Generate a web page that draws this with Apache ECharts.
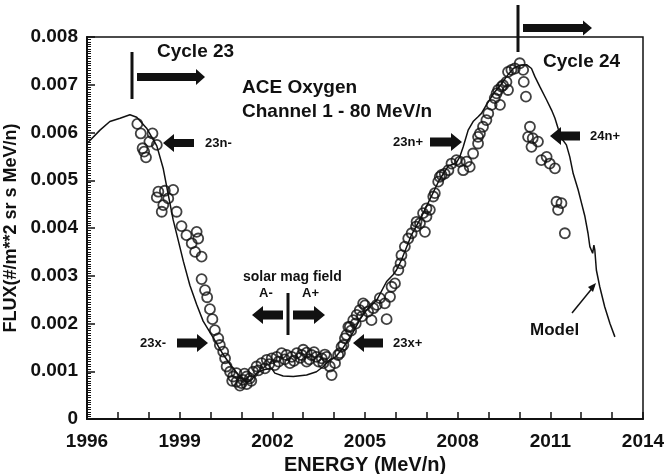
<!DOCTYPE html>
<html>
<head>
<meta charset="utf-8">
<script src="https://cdn.jsdelivr.net/npm/echarts@6/dist/echarts.min.js"></script>
<style>
  html, body { margin: 0; padding: 0; background: #fff; }
  #chart { width: 664px; height: 474px; }
</style>
</head>
<body>
<div id="chart"></div>
<script>
// ACE oxygen observations (open circles)
const obsYear = [
  1997.63, 1997.74, 1997.80, 1997.85, 1997.91, 1998.02, 1998.12, 1998.26, 1998.31, 1998.26,
  1998.42, 1998.47, 1998.52, 1998.63, 1998.79, 1998.90, 1999.06, 1999.22, 1999.39, 1999.50,
  1999.55, 1999.60, 1999.71, 1999.71, 1999.82, 1999.89, 1999.98, 2000.06, 2000.14, 2000.25,
  2000.30, 2000.41, 2000.47, 2000.52, 2000.63, 2000.73, 2000.84, 2000.84, 2001.00, 2001.17,
  2001.17, 2001.27, 2001.32, 2001.38, 2001.49, 2001.65, 2001.76, 2001.82, 2001.98, 2002.08,
  2002.14, 2002.30, 2002.46, 2002.57, 2002.63, 2002.79, 2002.95, 2003.11, 2003.11, 2003.27,
  2003.43, 2003.60, 2003.65, 2003.76, 2003.86, 2003.92, 2004.03, 2004.13, 2004.19, 2004.24,
  2004.30, 2004.35, 2004.40, 2004.46, 2004.51, 2004.62, 2004.73, 2004.83, 2004.94, 2005.10,
  2005.21, 2005.27, 2005.38, 2005.48, 2005.64, 2005.70, 2005.81, 2005.86, 2005.97, 2006.08,
  2006.15, 2006.18, 2006.29, 2006.40, 2006.51, 2006.65, 2006.67, 2006.78, 2006.88, 2006.94,
  2006.99, 2006.99, 2007.10, 2007.21, 2007.26, 2007.37, 2007.42, 2007.48, 2007.58, 2007.70,
  2007.80, 2007.96, 2008.07, 2008.18, 2008.29, 2008.39, 2008.50, 2008.66, 2008.66, 2008.72,
  2008.82, 2008.93, 2008.99, 2009.10, 2009.20, 2009.26, 2009.31, 2009.37, 2009.42, 2009.47,
  2009.58, 2009.63, 2009.63, 2009.74, 2009.85, 2010.01, 2010.12, 2010.14, 2010.21, 2010.28,
  2010.34, 2010.39, 2010.43, 2010.60, 2010.71, 2010.88, 2010.98, 2011.15, 2011.20, 2011.25,
  2011.36, 2011.47,
  2000.70, 2000.95, 2001.05, 2001.10, 2001.55, 2001.90, 2002.20, 2002.40, 2002.70, 2002.90,
  2003.00, 2003.20, 2003.35, 2003.50, 2003.70, 2004.55, 2004.70, 2004.90, 2005.00
];
const obsFlux = [
  0.00618, 0.00598, 0.00567, 0.00560, 0.00548, 0.00581, 0.00598, 0.00574, 0.00476, 0.00464,
  0.00434, 0.00448, 0.00478, 0.00462, 0.00480, 0.00434, 0.00404, 0.00385, 0.00368, 0.00350,
  0.00392, 0.00378, 0.00340, 0.00293, 0.00270, 0.00255, 0.00230, 0.00209, 0.00186, 0.00169,
  0.00155, 0.00141, 0.00127, 0.00110, 0.00099, 0.00089, 0.00078, 0.00096, 0.00075, 0.00073,
  0.00089, 0.00085, 0.00080, 0.00099, 0.00110, 0.00117, 0.00106, 0.00124, 0.00127, 0.00113,
  0.00130, 0.00138, 0.00134, 0.00117, 0.00130, 0.00138, 0.00134, 0.00139, 0.00120, 0.00134,
  0.00130, 0.00127, 0.00117, 0.00130, 0.00110, 0.00092, 0.00117, 0.00134, 0.00138, 0.00151,
  0.00155, 0.00169, 0.00176, 0.00193, 0.00193, 0.00207, 0.00218, 0.00228, 0.00242, 0.00225,
  0.00207, 0.00232, 0.00239, 0.00253, 0.00242, 0.00209, 0.00256, 0.00277, 0.00284, 0.00312,
  0.00326, 0.00343, 0.00361, 0.00378, 0.00389, 0.00403, 0.00413, 0.00410, 0.00431, 0.00392,
  0.00441, 0.00424, 0.00438, 0.00466, 0.00473, 0.00497, 0.00507, 0.00511, 0.00514, 0.00521,
  0.00535, 0.00542, 0.00539, 0.00521, 0.00539, 0.00528, 0.00556, 0.00577, 0.00591, 0.00598,
  0.00612, 0.00626, 0.00640, 0.00658, 0.00672, 0.00682, 0.00689, 0.00658, 0.00696, 0.00699,
  0.00706, 0.00689, 0.00727, 0.00731, 0.00734, 0.00745, 0.00731, 0.00706, 0.00675, 0.00591,
  0.00612, 0.00570, 0.00588, 0.00581, 0.00542, 0.00549, 0.00535, 0.00525, 0.00455, 0.00438,
  0.00452, 0.00389,
  0.00080, 0.00070, 0.00082, 0.00095, 0.00102, 0.00115, 0.00120, 0.00125, 0.00122, 0.00128,
  0.00145, 0.00125, 0.00140, 0.00120, 0.00135, 0.00185, 0.00200, 0.00215, 0.00238
];

// model curve
const modelYear = [
  1996.00, 1996.42, 1996.74, 1997.07, 1997.39, 1997.61, 1997.93, 1998.26, 1998.47, 1998.63,
  1998.79, 1998.95, 1999.12, 1999.33, 1999.55, 1999.76, 2000.09, 2000.41, 2000.68, 2000.95,
  2001.17, 2001.33, 2001.49, 2001.71, 2001.98, 2002.08, 2002.35, 2002.68, 2003.11, 2003.43,
  2003.65, 2003.86, 2004.05, 2004.30, 2004.60, 2004.85, 2005.05, 2005.38, 2005.70, 2005.91,
  2006.02, 2006.18, 2006.50, 2006.80, 2007.10, 2007.40, 2007.70, 2007.95, 2008.07, 2008.18,
  2008.34, 2008.50, 2008.66, 2008.77, 2008.93, 2009.20, 2009.40, 2009.58, 2009.80, 2010.01,
  2010.23, 2010.39, 2010.50, 2010.66, 2010.88, 2011.04, 2011.15, 2011.25, 2011.36, 2011.52,
  2011.63, 2011.74, 2011.90, 2012.01, 2012.12, 2012.22, 2012.28, 2012.37, 2012.41, 2012.44,
  2012.49, 2012.60, 2012.76, 2012.93, 2013.09
];
const modelFlux = [
  0.00577, 0.00605, 0.00623, 0.00630, 0.00637, 0.00632, 0.00609, 0.00572, 0.00524, 0.00470,
  0.00417, 0.00375, 0.00330, 0.00280, 0.00240, 0.00205, 0.00170, 0.00135, 0.00110, 0.00089,
  0.00076, 0.00082, 0.00096, 0.00103, 0.00106, 0.00096, 0.00090, 0.00089, 0.00092, 0.00099,
  0.00110, 0.00124, 0.00130, 0.00150, 0.00180, 0.00210, 0.00228, 0.00249, 0.00288, 0.00302,
  0.00312, 0.00333, 0.00385, 0.00420, 0.00460, 0.00500, 0.00530, 0.00536, 0.00549, 0.00570,
  0.00605, 0.00623, 0.00633, 0.00640, 0.00658, 0.00685, 0.00700, 0.00717, 0.00734, 0.00741,
  0.00742, 0.00734, 0.00717, 0.00696, 0.00668, 0.00647, 0.00630, 0.00609, 0.00588, 0.00574,
  0.00549, 0.00514, 0.00480, 0.00452, 0.00424, 0.00389, 0.00361, 0.00347, 0.00364, 0.00354,
  0.00312, 0.00277, 0.00235, 0.00200, 0.00172
];

const FONT = "'Liberation Sans', Arial, sans-serif";
const INK = '#111';

const obsData = obsYear.map((y, i) => [y, obsFlux[i]]);
const modelData = modelYear.map((y, i) => [y, modelFlux[i]]);

// block arrow polygon, tail -> head along a horizontal line
function blockArrow(xTail, xHead, y, shaft, headH, headL) {
  const d = xHead > xTail ? 1 : -1;
  const xb = xHead - d * headL;
  const s = shaft / 2, h = headH / 2;
  return {
    type: 'polygon',
    shape: { points: [[xTail, y - s], [xb, y - s], [xb, y - h], [xHead, y], [xb, y + h], [xb, y + s], [xTail, y + s]] },
    style: { fill: INK }
  };
}
function bar(x, y1, y2) {
  return { type: 'line', shape: { x1: x, y1: y1, x2: x, y2: y2 }, style: { stroke: INK, lineWidth: 3 } };
}
function label(txt, x, y, size) {
  return {
    type: 'text', x: x, y: y,
    style: { text: txt, font: 'bold ' + size + 'px ' + FONT, fill: INK, verticalAlign: 'middle' }
  };
}

const myChart = echarts.init(document.getElementById('chart'));

const option = {
  animation: false,
  backgroundColor: '#fff',
  grid: {
    left: 87, right: 21, top: 37, bottom: 55,
    outerBoundsMode: 'none',
    show: true, borderColor: INK, borderWidth: 1.5
  },
  xAxis: {
    type: 'value',
    min: 1996, max: 2014, interval: 3,
    name: 'ENERGY (MeV/n)',
    nameLocation: 'middle',
    nameGap: 30,
    nameTextStyle: { fontFamily: FONT, fontWeight: 'bold', fontSize: 20, color: INK },
    axisLine: { lineStyle: { color: INK, width: 2 } },
    axisTick: { show: true, inside: true, length: 7, lineStyle: { color: INK, width: 1.5 } },
    minorTick: { show: true, splitNumber: 3, length: 7, lineStyle: { color: INK, width: 1.5 } },
    splitLine: { show: false },
    axisLabel: {
      fontFamily: FONT, fontWeight: 'bold', fontSize: 19, color: INK, margin: 13,
      formatter: v => String(v)
    }
  },
  yAxis: {
    type: 'value',
    min: 0, max: 0.008, interval: 0.001,
    name: 'FLUX(#/m**2 sr s MeV/n)',
    nameLocation: 'middle',
    nameGap: 60,
    nameTextStyle: { fontFamily: FONT, fontWeight: 'bold', fontSize: 18, color: INK },
    axisLine: { show: true, lineStyle: { color: INK, width: 2 } },
    axisTick: { show: true, inside: true, length: 8, lineStyle: { color: INK, width: 1.5 } },
    minorTick: { show: true, splitNumber: 20, length: 4, lineStyle: { color: INK, width: 1 } },
    splitLine: { show: false },
    axisLabel: {
      fontFamily: FONT, fontWeight: 'bold', fontSize: 19, color: INK, margin: 9,
      formatter: v => (v === 0 ? '0' : v.toFixed(3))
    }
  },
  series: [
    {
      name: 'Model',
      type: 'line',
      data: modelData,
      showSymbol: false,
      smooth: false,
      lineStyle: { color: INK, width: 1.5 },
      z: 2
    },
    {
      name: 'ACE Oxygen',
      type: 'scatter',
      data: obsData,
      symbol: 'circle',
      symbolSize: 10,
      itemStyle: { color: 'rgba(0,0,0,0)', borderColor: INK, borderWidth: 1.8 },
      z: 3
    }
  ],
  graphic: [
    bar(132, 52, 99),
    blockArrow(137, 205, 77, 8, 16, 9),
    label('Cycle 23', 157, 52, 19),
    label('ACE Oxygen', 242, 88, 19),
    label('Channel 1 - 80 MeV/n', 242, 112, 19),
    blockArrow(194, 163, 143, 8, 18, 11),
    label('23n-', 205, 143, 13),
    bar(518, 5, 52),
    blockArrow(523, 592, 28, 8, 15, 9),
    label('Cycle 24', 543, 62, 19),
    blockArrow(430, 462, 142, 9, 18, 11),
    label('23n+', 393, 142, 13),
    blockArrow(580, 550, 136, 9, 18, 11),
    label('24n+', 590, 136, 13),
    label('solar mag field', 243, 277, 14),
    label('A-', 259, 293, 13),
    label('A+', 302, 293, 13),
    bar(288, 293, 335),
    blockArrow(283, 252, 315, 9, 18, 11),
    blockArrow(293, 325, 315, 9, 18, 11),
    blockArrow(177, 208, 343, 9, 18, 11),
    label('23x-', 140, 343, 13),
    blockArrow(383, 353, 343, 9, 18, 11),
    label('23x+', 393, 343, 13),
    label('Model', 530, 330, 17),
    { type: 'line', shape: { x1: 572, y1: 313, x2: 594, y2: 286 }, style: { stroke: INK, lineWidth: 1.5 } },
    { type: 'polygon', shape: { points: [[596, 283], [588, 287], [593, 292]] }, style: { fill: INK } }
  ]
};

myChart.setOption(option);
</script>
</body>
</html>
